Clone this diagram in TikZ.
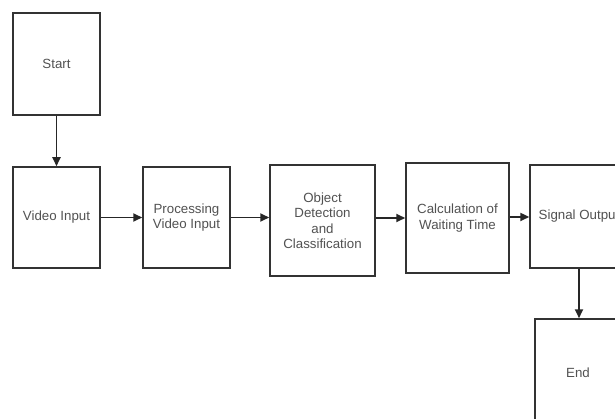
\documentclass[tikz,border=0pt]{standalone}
\usepackage{fontspec}
\setmainfont{Liberation Sans}
\usetikzlibrary{arrows.meta}
\begin{document}
\begin{tikzpicture}[x=1pt,y=-1pt,
  box/.style={draw=black!80, line width=1.5pt, fill=white, inner sep=0pt, align=center,
    text=black!68, font=\fontsize{13.3}{15.5}\selectfont},
  flow/.style={draw=black!85, line width=1.8pt, -{Triangle[length=9pt,width=8pt]}}]
\clip (0,0) rectangle (615,419);
\fill[white] (0,0) rectangle (615,419);
\node[box, minimum width=87pt, minimum height=102pt] (start) at (56.5,64) {Start};
\node[box, minimum width=87pt, minimum height=101pt] (video) at (56.5,217.5) {Video Input};
\node[box, minimum width=87pt, minimum height=101pt] (proc) at (186.5,217.5) {Processing\\Video Input};
\node[box, minimum width=105pt, minimum height=111pt] (obj) at (322.5,220.5) {Object\\Detection\\and\\Classification};
\node[box, minimum width=103pt, minimum height=110pt] (calc) at (457.5,218) {Calculation of\\Waiting Time};
\node[box, minimum width=98pt, minimum height=103pt] (sig) at (579,216.5) {Signal Output};
\node[box, minimum width=86pt, minimum height=108pt] (end) at (578,373) {End};
\draw[flow] (start.south) -- (video.north);
\draw[flow] (video.east) -- (proc.west);
\draw[flow] (proc.east) -- (proc.east -| obj.west);
\draw[flow] (obj.east) ++(0,-2.5) coordinate (oe) -- (oe -| calc.west);
\draw[flow, line width=2.8pt] (calc.east) ++(0,-1) coordinate (ce) -- (ce -| sig.west);
\draw[flow] (sig.south) -- (sig.south |- end.north);
\end{tikzpicture}
\end{document}
